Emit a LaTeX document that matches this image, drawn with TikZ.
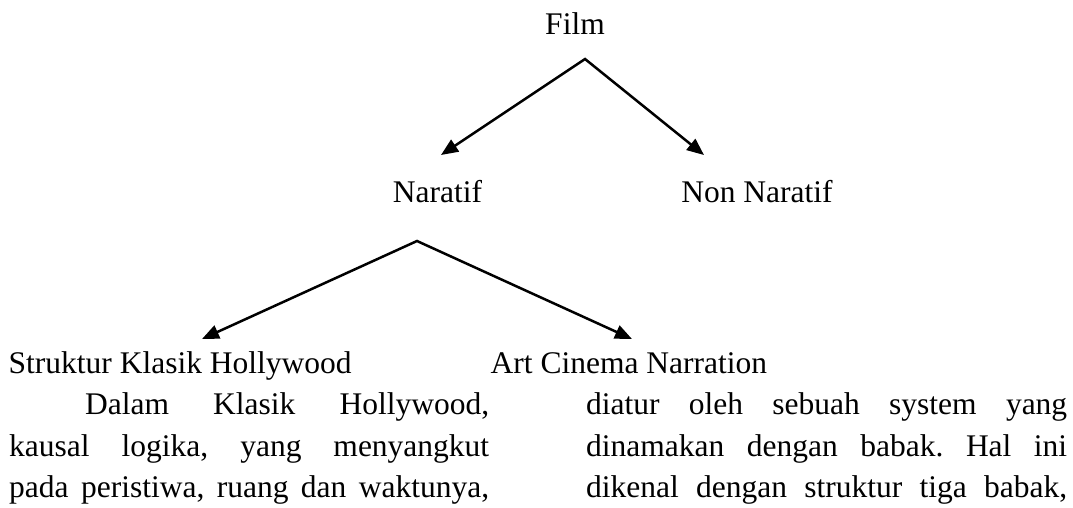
\documentclass[tikz,border=0pt]{standalone}
\usepackage{fontspec}
\setmainfont{Liberation Serif}
\usetikzlibrary{arrows.meta}
\frenchspacing
\begin{document}
\begin{tikzpicture}[x=1pt,y=-1pt,
  lbl/.style={font=\fontsize{31.5}{41.5}\selectfont, inner sep=0pt, anchor=base},
  txt/.style={font=\fontsize{31.5}{41.5}\selectfont, inner sep=0pt, anchor=base west},
  arrs/.style={line width=2.5pt, line join=miter,
    {Triangle[length=17pt,width=14pt]}-{Triangle[length=17pt,width=14pt]}}]
\useasboundingbox (0,0) rectangle (1073,507);
% labels
\node[lbl] (film) at (575,34) {Film};
\node[lbl] (naratif) at (437.5,202) {Naratif};
\node[lbl] (nonnaratif) at (757,202) {Non Naratif};
\node[txt] (klasik) at (8.5,373) {Struktur Klasik Hollywood};
\node[txt] (art) at (490.5,373) {Art Cinema Narration};
% connectors
\coordinate (apexA) at (585,59);
\coordinate (tipN) at (441,155);
\coordinate (tipNN) at (704,155);
\draw[arrs] (tipN) -- (apexA) -- (tipNN);
\coordinate (apexB) at (417,241);
\coordinate (tipK) at (202,339);
\coordinate (tipA) at (632,339);
\draw[arrs] (tipK) -- (apexB) -- (tipA);
% paragraph text, left column
\node[txt] (l1) at (85,414) {\makebox[404pt][s]{Dalam Klasik Hollywood,}};
\node[txt] (l2) at (9,456) {\makebox[480pt][s]{kausal logika, yang menyangkut}};
\node[txt] (l3) at (9,497) {\makebox[480pt][s]{pada peristiwa, ruang dan waktunya,}};
% paragraph text, right column
\node[txt] (r1) at (586,414) {\makebox[481pt][s]{diatur oleh sebuah system yang}};
\node[txt] (r2) at (586,456) {\makebox[481pt][s]{dinamakan dengan babak. Hal ini}};
\node[txt] (r3) at (586,497) {\makebox[481pt][s]{dikenal dengan struktur tiga babak,}};
\end{tikzpicture}
\end{document}
